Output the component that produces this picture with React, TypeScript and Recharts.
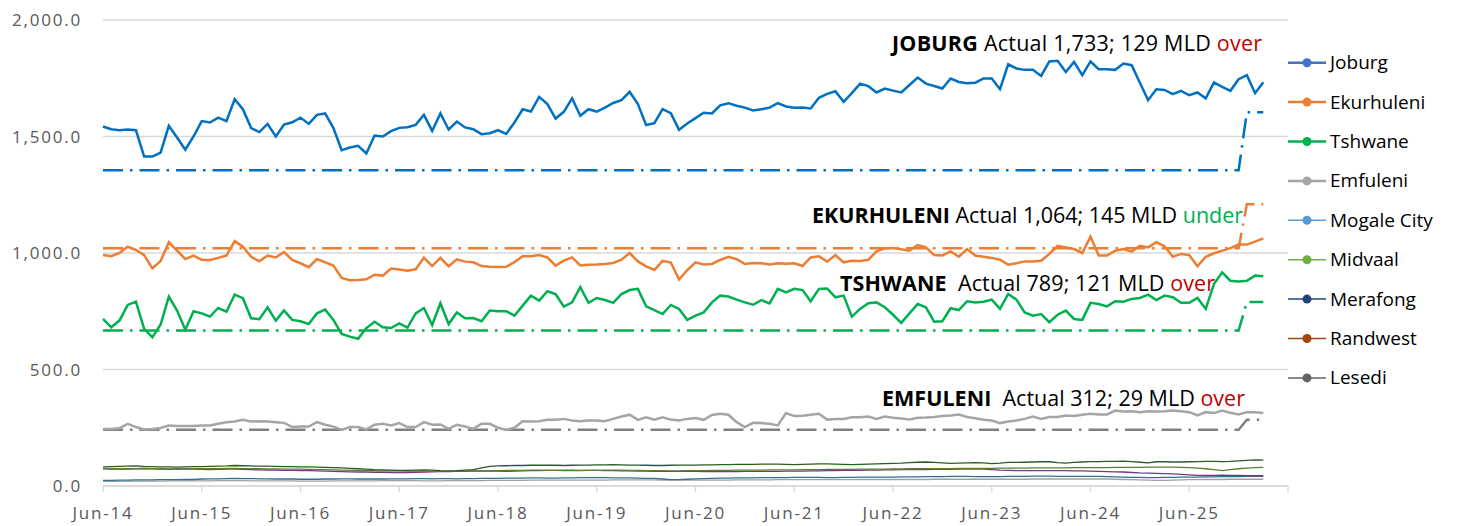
import { LineChart, Line, XAxis, YAxis, CartesianGrid } from 'recharts';

// monthly, Jun-14 .. Mar-26
const tickLabels = ['Jun-14', 'Jun-15', 'Jun-16', 'Jun-17', 'Jun-18', 'Jun-19', 'Jun-20', 'Jun-21', 'Jun-22', 'Jun-23', 'Jun-24', 'Jun-25'];

const joburg = [
  1543, 1531, 1527, 1530, 1527, 1414, 1414, 1431, 1546, 1496, 1443, 1500,
  1566, 1560, 1581, 1566, 1660, 1617, 1536, 1519, 1554, 1500, 1551, 1561,
  1581, 1554, 1593, 1599, 1536, 1441, 1453, 1460, 1427, 1504, 1500, 1523,
  1537, 1540, 1550, 1593, 1524, 1599, 1530, 1564, 1539, 1531, 1510, 1514,
  1527, 1511, 1560, 1617, 1607, 1670, 1639, 1577, 1606, 1664, 1589, 1617,
  1607, 1624, 1644, 1656, 1692, 1639, 1549, 1557, 1617, 1600, 1529, 1556,
  1579, 1602, 1599, 1634, 1643, 1632, 1624, 1612, 1617, 1624, 1643, 1629,
  1623, 1624, 1620, 1666, 1683, 1694, 1649, 1686, 1727, 1716, 1689, 1706,
  1697, 1689, 1721, 1753, 1727, 1717, 1706, 1749, 1734, 1729, 1731, 1749,
  1749, 1703, 1810, 1792, 1786, 1786, 1760, 1822, 1825, 1777, 1820, 1763,
  1822, 1789, 1789, 1786, 1813, 1806, 1731, 1656, 1703, 1700, 1682, 1696,
  1677, 1689, 1664, 1732, 1713, 1696, 1746, 1763, 1686, 1733,
];

const ekurhuleni = [
  991, 986, 1000, 1027, 1013, 991, 934, 966, 1046, 1010, 974, 989,
  971, 970, 979, 989, 1051, 1027, 984, 964, 989, 981, 1004, 970,
  956, 939, 974, 960, 946, 893, 883, 884, 887, 907, 903, 933,
  929, 924, 930, 980, 944, 979, 943, 973, 963, 960, 944, 941,
  940, 941, 961, 986, 986, 991, 981, 946, 967, 981, 947, 950,
  951, 953, 957, 971, 1000, 964, 943, 927, 966, 959, 886, 927,
  960, 951, 953, 970, 984, 974, 953, 957, 956, 951, 956, 954,
  956, 944, 981, 986, 963, 991, 960, 967, 966, 971, 1007, 1020,
  1021, 1016, 1010, 1034, 1024, 991, 989, 1007, 984, 1017, 989, 984,
  979, 971, 950, 956, 964, 964, 967, 996, 1031, 1024, 1017, 1000,
  1070, 989, 989, 1010, 1017, 1006, 1031, 1024, 1046, 1029, 984, 996,
  991, 943, 984, 999, 1010, 1021, 1036, 1036, 1049, 1063,
];

const tshwane = [
  717, 681, 710, 777, 791, 674, 638, 693, 813, 753, 671, 750,
  741, 727, 764, 748, 821, 806, 720, 716, 767, 710, 753, 713,
  707, 695, 741, 757, 713, 653, 641, 632, 678, 705, 681, 678,
  698, 680, 741, 764, 691, 784, 695, 745, 720, 721, 707, 753,
  750, 750, 731, 774, 817, 796, 836, 824, 770, 788, 853, 786,
  807, 798, 786, 824, 841, 846, 771, 755, 738, 777, 760, 713,
  731, 745, 788, 817, 813, 800, 788, 778, 798, 784, 846, 831,
  846, 841, 793, 846, 848, 810, 817, 727, 760, 784, 788, 767,
  735, 700, 741, 781, 767, 705, 707, 763, 755, 793, 788, 791,
  800, 760, 824, 800, 745, 731, 738, 703, 735, 753, 717, 713,
  786, 781, 771, 793, 791, 803, 807, 821, 798, 817, 810, 786,
  786, 807, 760, 867, 917, 881, 878, 881, 903, 900,
];

const emfuleni = [
  245, 245, 248, 267, 253, 243, 245, 249, 260, 257, 257, 257,
  260, 260, 267, 274, 277, 284, 277, 278, 277, 274, 271, 253,
  255, 255, 274, 263, 255, 241, 253, 253, 243, 263, 267, 260,
  270, 253, 253, 274, 263, 264, 245, 263, 255, 245, 267, 267,
  250, 241, 250, 278, 277, 278, 284, 284, 288, 281, 278, 281,
  281, 278, 288, 298, 306, 284, 295, 285, 295, 285, 281, 288,
  292, 284, 305, 310, 306, 274, 253, 271, 270, 267, 260, 313,
  300, 302, 306, 310, 285, 288, 288, 295, 295, 298, 288, 298,
  293, 290, 285, 293, 294, 296, 300, 303, 307, 296, 291, 284,
  281, 270, 277, 281, 288, 298, 288, 296, 296, 303, 300, 306,
  310, 307, 307, 324, 320, 321, 317, 321, 320, 321, 324, 321,
  317, 303, 317, 313, 324, 314, 307, 317, 317, 313,
];

const mogaleCity = [
  82, 83, 84, 85, 86, 84, 83, 82, 82, 81, 82, 83,
  83, 84, 85, 86, 88, 87, 86, 85, 85, 84, 83, 83,
  82, 82, 81, 80, 79, 78, 76, 74, 72, 70, 69, 68,
  67, 67, 68, 69, 68, 66, 65, 66, 68, 70, 78, 84,
  86, 87, 88, 88, 89, 89, 90, 89, 88, 89, 90, 90,
  91, 91, 92, 91, 90, 90, 89, 88, 88, 89, 90, 90,
  90, 91, 91, 92, 92, 93, 93, 93, 94, 94, 94, 93,
  92, 93, 94, 95, 95, 94, 93, 92, 93, 94, 95, 96,
  97, 98, 100, 102, 103, 101, 99, 97, 98, 99, 100, 99,
  96, 98, 101, 101, 102, 103, 104, 104, 100, 98, 101, 103,
  105, 105, 106, 106, 107, 105, 102, 99, 104, 104, 103, 103,
  104, 105, 106, 106, 105, 106, 108, 110, 112, 111,
];

const merafong = [
  76, 75, 74, 74, 75, 76, 75, 74, 73, 74, 75, 75,
  74, 74, 75, 76, 76, 75, 74, 74, 73, 73, 72, 72,
  72, 71, 70, 70, 69, 68, 67, 67, 66, 66, 65, 65,
  65, 64, 64, 64, 63, 63, 63, 64, 64, 65, 65, 66,
  66, 67, 67, 67, 68, 68, 67, 67, 66, 66, 66, 67,
  67, 68, 68, 68, 67, 67, 66, 66, 66, 65, 65, 66,
  66, 66, 67, 67, 67, 68, 68, 68, 68, 69, 69, 69,
  69, 70, 70, 70, 71, 71, 71, 71, 72, 72, 72, 72,
  73, 73, 74, 74, 75, 75, 75, 75, 76, 76, 76, 76,
  76, 77, 77, 77, 77, 78, 78, 78, 78, 78, 79, 79,
  79, 79, 79, 80, 80, 80, 80, 81, 81, 81, 81, 80,
  79, 77, 74, 70, 66, 70, 74, 77, 79, 80,
];

const randwest = [
  74, 73, 72, 73, 74, 75, 74, 72, 71, 72, 73, 72,
  71, 70, 71, 72, 72, 71, 70, 69, 68, 68, 67, 67,
  66, 66, 65, 64, 63, 62, 61, 60, 60, 59, 59, 58,
  58, 58, 59, 60, 61, 62, 62, 63, 63, 64, 64, 64,
  64, 63, 64, 65, 66, 66, 67, 67, 68, 68, 67, 67,
  67, 66, 66, 65, 65, 64, 64, 63, 63, 63, 63, 63,
  63, 62, 62, 62, 62, 62, 63, 63, 63, 63, 63, 64,
  64, 64, 65, 65, 66, 66, 67, 67, 67, 68, 68, 69,
  69, 70, 70, 70, 70, 71, 71, 71, 72, 72, 72, 72,
  70, 68, 67, 66, 66, 66, 66, 66, 66, 66, 65, 65,
  64, 63, 62, 61, 60, 58, 56, 55, 54, 53, 52, 50,
  48, 46, 45, 46, 47, 46, 45, 44, 44, 44,
];

const midvaal = [
  24, 24, 25, 25, 26, 26, 26, 27, 27, 27, 28, 28,
  30, 31, 31, 32, 33, 32, 32, 31, 31, 30, 30, 30,
  29, 29, 29, 30, 30, 31, 31, 30, 31, 30, 30, 31,
  31, 31, 32, 32, 31, 32, 32, 31, 32, 32, 33, 33,
  33, 34, 34, 34, 35, 35, 34, 34, 35, 35, 36, 36,
  36, 36, 35, 35, 35, 34, 33, 33, 30, 27, 27, 29,
  31, 32, 33, 34, 34, 35, 35, 35, 36, 36, 36, 36,
  37, 37, 37, 37, 36, 36, 37, 37, 38, 38, 38, 38,
  38, 39, 39, 39, 40, 40, 40, 41, 41, 41, 40, 40,
  40, 40, 41, 41, 41, 42, 42, 42, 41, 41, 41, 41,
  41, 41, 40, 39, 38, 37, 37, 36, 36, 37, 37, 38,
  38, 38, 39, 39, 40, 40, 40, 41, 41, 41,
];

const lesedi = [
  20, 20, 20, 21, 21, 21, 21, 21, 22, 22, 22, 22,
  22, 22, 23, 23, 23, 23, 22, 22, 22, 22, 22, 22,
  21, 21, 21, 21, 22, 22, 22, 22, 22, 22, 23, 23,
  23, 23, 23, 22, 22, 22, 23, 23, 23, 23, 23, 24,
  24, 24, 24, 24, 25, 25, 25, 25, 25, 25, 25, 25,
  25, 25, 26, 26, 26, 26, 26, 26, 25, 25, 25, 25,
  25, 25, 25, 25, 25, 26, 26, 26, 26, 26, 27, 27,
  27, 27, 27, 27, 27, 27, 27, 27, 28, 28, 28, 28,
  28, 28, 28, 28, 28, 29, 29, 29, 29, 29, 29, 29,
  29, 29, 29, 29, 29, 30, 30, 30, 30, 30, 30, 30,
  30, 30, 30, 29, 28, 27, 26, 25, 24, 24, 25, 26,
  27, 27, 28, 28, 28, 29, 29, 29, 29, 29,
];

// targets: [old, new] with the step at month index 139
const joburgTarget = [1355, 1604];
const ekurhuleniTarget = [1020, 1209];
const tshwaneTarget = [667, 790];
const emfuleniTarget = [241, 284];
const targetStep = 139;

const data = joburg.map((v, i) => {
  const t = i < targetStep ? 0 : 1;
  return {
    i,
    joburg: v,
    ekurhuleni: ekurhuleni[i],
    tshwane: tshwane[i],
    emfuleni: emfuleni[i],
    mogaleCity: mogaleCity[i],
    merafong: merafong[i],
    randwest: randwest[i],
    midvaal: midvaal[i],
    lesedi: lesedi[i],
    joburgT: joburgTarget[t],
    ekurhuleniT: ekurhuleniTarget[t],
    tshwaneT: tshwaneTarget[t],
    emfuleniT: emfuleniTarget[t],
  };
});

const legendItems = [
  { name: 'Joburg', color: '#4472C4', w: 2.5 },
  { name: 'Ekurhuleni', color: '#ED7D31', w: 2.5 },
  { name: 'Tshwane', color: '#00B050', w: 2.5 },
  { name: 'Emfuleni', color: '#A5A5A5', w: 2.5 },
  { name: 'Mogale City', color: '#5B9BD5', w: 1.5 },
  { name: 'Midvaal', color: '#70AD47', w: 1.5 },
  { name: 'Merafong', color: '#264478', w: 1.5 },
  { name: 'Randwest', color: '#9E480E', w: 1.5 },
  { name: 'Lesedi', color: '#636363', w: 1.5 },
];

const dash = '20 7 2.5 7';
const font = '"Open Sans", sans-serif';
const tickStyle = { fill: '#595959', fontSize: 17, fontFamily: font, letterSpacing: 1.8 };
const pre = { whiteSpace: 'pre' as const };

export default function App() {
  return (
    <div style={{ position: 'absolute', left: 0, top: 0, width: 1458, height: 526, background: '#fff', fontFamily: font }}>
      <LineChart width={1458} height={526} data={data} margin={{ top: 20, right: 170, bottom: 0, left: 0 }}>
        <CartesianGrid vertical={false} stroke="#D9D9D9" strokeWidth={1.3} />
        <XAxis
          dataKey="i"
          type="number"
          domain={[0, 144]}
          ticks={[0, 12, 24, 36, 48, 60, 72, 84, 96, 108, 120, 132, 144]}
          interval={0}
          tickFormatter={(v: number) => tickLabels[v / 12] ?? ''}
          height={40}
          stroke="#D9D9D9"
          strokeWidth={1.3}
          tickSize={6}
          tickMargin={15}
          tick={tickStyle}
        />
        <YAxis
          domain={[0, 2000]}
          ticks={[0, 500, 1000, 1500, 2000]}
          interval={0}
          width={103}
          axisLine={false}
          tickLine={false}
          tickSize={0}
          tickMargin={21}
          tick={tickStyle}
          tickFormatter={(v: number) => v.toLocaleString('en-US', { minimumFractionDigits: 1, maximumFractionDigits: 1 })}
        />

        <Line dataKey="lesedi" stroke="#A0A0A0" strokeWidth={1.3} dot={false} isAnimationActive={false} />
        <Line dataKey="midvaal" stroke="#2F7096" strokeWidth={1.3} dot={false} isAnimationActive={false} />
        <Line dataKey="randwest" stroke="#7A3878" strokeWidth={1.3} dot={false} isAnimationActive={false} />
        <Line dataKey="merafong" stroke="#548235" strokeWidth={1.3} dot={false} isAnimationActive={false} />
        <Line dataKey="mogaleCity" stroke="#2E5A2A" strokeWidth={1.3} dot={false} isAnimationActive={false} />

        <Line dataKey="joburgT" stroke="#0070C0" strokeWidth={2.5} strokeDasharray={dash} dot={false} isAnimationActive={false} />
        <Line dataKey="ekurhuleniT" stroke="#ED7D31" strokeWidth={2.5} strokeDasharray={dash} dot={false} isAnimationActive={false} />
        <Line dataKey="tshwaneT" stroke="#00B050" strokeWidth={2.5} strokeDasharray={dash} dot={false} isAnimationActive={false} />
        <Line dataKey="emfuleniT" stroke="#808080" strokeWidth={2.5} strokeDasharray={dash} dot={false} isAnimationActive={false} />

        <Line dataKey="emfuleni" stroke="#A5A5A5" strokeWidth={2.5} dot={false} isAnimationActive={false} />
        <Line dataKey="tshwane" stroke="#00B050" strokeWidth={2.5} dot={false} isAnimationActive={false} />
        <Line dataKey="ekurhuleni" stroke="#ED7D31" strokeWidth={2.5} dot={false} isAnimationActive={false} />
        <Line dataKey="joburg" stroke="#0070C0" strokeWidth={2.5} dot={false} isAnimationActive={false} />
      </LineChart>

      <svg width={1458} height={526} style={{ position: 'absolute', left: 0, top: 0, pointerEvents: 'none' }}>
        <g fontFamily={font} fontSize={21.5} fill="#000">
          <text x={892} y={51} textLength={370} lengthAdjust="spacing" xmlSpace="preserve" style={pre}>
            <tspan fontWeight={700}>JOBURG</tspan>
            <tspan style={pre}>{' Actual 1,733; 129 MLD '}</tspan>
            <tspan fill="#C00000">over</tspan>
          </text>
          <text x={812} y={223} textLength={431} lengthAdjust="spacing" xmlSpace="preserve" style={pre}>
            <tspan fontWeight={700}>EKURHULENI</tspan>
            <tspan style={pre}>{' Actual 1,064; 145 MLD '}</tspan>
            <tspan fill="#00B050">under</tspan>
          </text>
          <text x={840} y={291} textLength={375} lengthAdjust="spacing" xmlSpace="preserve" style={pre}>
            <tspan fontWeight={700}>TSHWANE</tspan>
            <tspan style={pre}>{'\u00A0 Actual 789; 121 MLD '}</tspan>
            <tspan fill="#C00000">over</tspan>
          </text>
          <text x={882} y={406} textLength={363} lengthAdjust="spacing" xmlSpace="preserve" style={pre}>
            <tspan fontWeight={700}>EMFULENI</tspan>
            <tspan style={pre}>{'\u00A0 Actual 312; 29 MLD '}</tspan>
            <tspan fill="#C00000">over</tspan>
          </text>
        </g>
        <g fontFamily={font} fontSize={19} fill="#000">
          {legendItems.map((it, k) => {
            const y = 62.7 + k * 39.4;
            return (
              <g key={it.name}>
                <line x1={1288} x2={1326} y1={y} y2={y} stroke={it.color} strokeWidth={it.w} />
                <circle cx={1307} cy={y} r={4.5} fill={it.color} />
                <text x={1330} y={y + 6.5}>{it.name}</text>
              </g>
            );
          })}
        </g>
      </svg>
    </div>
  );
}
